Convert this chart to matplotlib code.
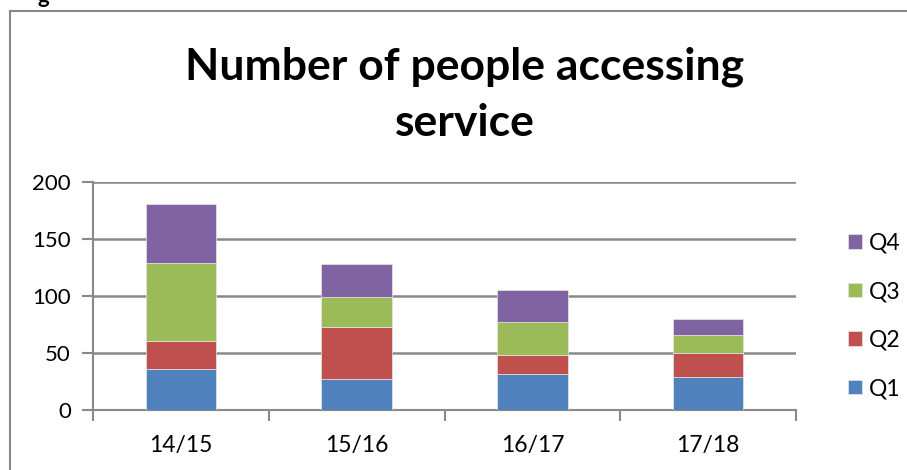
import matplotlib
matplotlib.use('Agg')
import matplotlib.pyplot as plt
from matplotlib.patches import Rectangle

# data
years = ['14/15', '15/16', '16/17', '17/18']
q1 = [36, 27, 31, 29]
q2 = [24, 46, 17, 21]
q3 = [69, 26, 29, 16]
q4 = [52, 29, 28, 14]
quarters = ['Q1', 'Q2', 'Q3', 'Q4']
colours = ['#4F81BD', '#C0504D', '#9BBB59', '#8064A2']
y_ticks = [0, 50, 100, 150, 200]

plt.rcParams['font.family'] = ['Lato', 'DejaVu Sans']
grey = '#898989'

fig = plt.figure(figsize=(9.07, 4.70), dpi=100)
ax = fig.add_axes([93 / 907, 1 - 409.7 / 470, (796 - 93) / 907, (409.7 - 182) / 470])

# stacked bars
x = range(len(years))
bottom = [0] * len(years)
bars = []
for vals, name, col in zip([q1, q2, q3, q4], quarters, colours):
    b = ax.bar(x, vals, width=0.4, bottom=bottom, color=col, label=name,
               edgecolor='#e6e6e6', linewidth=0.5, zorder=3)
    bars.append(b)
    bottom = [bt + v for bt, v in zip(bottom, vals)]

ax.set_xlim(-0.5, 3.5)
ax.set_ylim(0, 200)
ax.set_yticks(y_ticks)
ax.set_xticks(list(x))
ax.set_xticklabels(years)
ax.set_xticks([i - 0.5 for i in range(len(years) + 1)], minor=True)

ax.yaxis.grid(True, color=grey, linewidth=1.8, zorder=0)
for s in ['top', 'right']:
    ax.spines[s].set_visible(False)
for s in ['left', 'bottom']:
    ax.spines[s].set_color(grey)
    ax.spines[s].set_linewidth(1.5)

ax.tick_params(axis='y', direction='out', length=8, width=1.5, color=grey,
               labelsize=16, pad=8)
ax.tick_params(axis='x', which='major', length=0, labelsize=16.5, pad=18)
ax.tick_params(axis='x', which='minor', direction='out', length=8, width=1.5, color=grey)

# title
fig.text(465 / 907, 1 - 95 / 470, 'Number of people accessing\nservice',
         ha='center', va='center', fontsize=32, fontweight='bold',
         linespacing=1.5)

# legend, reversed so Q4 sits on top
handles = bars[::-1]
ax.legend(handles, quarters[::-1], loc='center left', frameon=False,
          bbox_to_anchor=(837 / 907, 1 - 316 / 470), bbox_transform=fig.transFigure,
          fontsize=16.5, handlelength=0.6, handleheight=0.6, handletextpad=0.3,
          labelspacing=1.2, borderpad=0)

# chart area frame (cut off on right and bottom in the original)
fig.add_artist(Rectangle((10 / 907, -0.1), 1.2, 1 - 11.5 / 470 + 0.1,
                         transform=fig.transFigure, fill=False,
                         edgecolor=grey, linewidth=1.5))

# fragment of text above the frame
fig.text(38 / 907, 1 - 3 / 470, 'g', fontsize=16, fontweight='bold', va='baseline')

fig.savefig('out.png', dpi=100)
